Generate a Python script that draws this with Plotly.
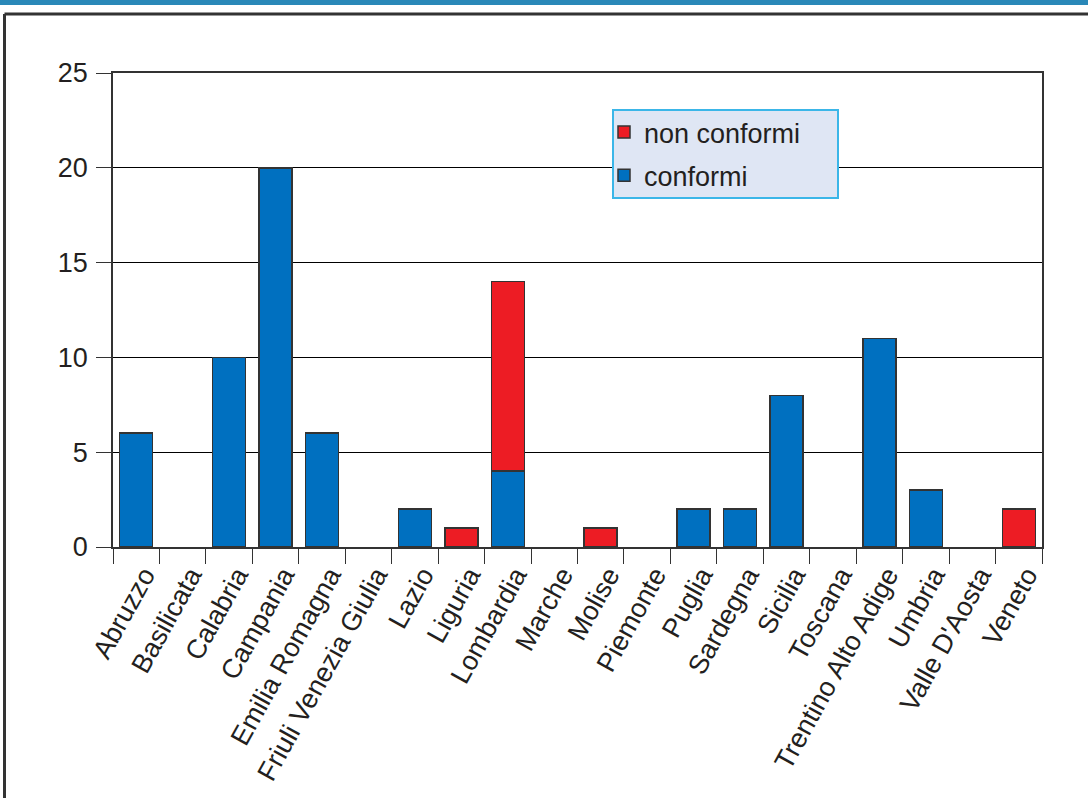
import plotly.graph_objects as go

regions = ["Abruzzo", "Basilicata", "Calabria", "Campania", "Emilia Romagna",
           "Friuli Venezia Giulia", "Lazio", "Liguria", "Lombardia", "Marche",
           "Molise", "Piemonte", "Puglia", "Sardegna", "Sicilia", "Toscana",
           "Trentino Alto Adige", "Umbria", "Valle D'Aosta", "Veneto"]
conformi = [6, 0, 10, 20, 6, 0, 2, 0, 4, 0, 0, 0, 2, 2, 8, 0, 11, 3, 0, 0]
non_conformi = [0, 0, 0, 0, 0, 0, 0, 1, 10, 0, 1, 0, 0, 0, 0, 0, 0, 0, 0, 2]
y_ticks = [0, 5, 10, 15, 20, 25]

W, H = 1088, 798
ML, MR, MT, MB = 113, 46, 73, 251
PW, PH = W - ML - MR, H - MT - MB


def px_x(p):
    return (p - ML) / PW


def px_y(p):
    return (H - MB - p) / PH


def nz(v):
    return [x if x != 0 else None for x in v]


FONT = "Liberation Sans, Arial, sans-serif"
TXT = "#231f20"
EDGE = "#333333"

fig = go.Figure()
fig.add_trace(go.Bar(x=regions, y=nz(conformi), name="conformi",
                     marker=dict(color="#0070c0", line=dict(color=EDGE, width=1.5)),
                     legendgroup="b", legendrank=2))
fig.add_trace(go.Bar(x=regions, y=nz(non_conformi), name="non conformi",
                     marker=dict(color="#ed1c24", line=dict(color=EDGE, width=1.5)),
                     legendgroup="a", legendrank=1))

shapes = [
    # top blue strip
    dict(type="rect", xref="paper", yref="paper", x0=px_x(-5), x1=px_x(W + 5),
         y0=px_y(5), y1=px_y(-5), fillcolor="#2a88b8", line=dict(width=0), layer="below"),
    # outer frame
    dict(type="line", xref="paper", yref="paper", x0=px_x(4.5), x1=px_x(W + 5),
         y0=px_y(14), y1=px_y(14), line=dict(color=EDGE, width=3), layer="below"),
    dict(type="line", xref="paper", yref="paper", x0=px_x(4.5), x1=px_x(4.5),
         y0=px_y(14), y1=px_y(H + 5), line=dict(color=EDGE, width=3), layer="below"),
    # legend box
    dict(type="rect", xref="paper", yref="paper", x0=px_x(613), x1=px_x(838),
         y0=px_y(198), y1=px_y(110), fillcolor="#dfe6f4",
         line=dict(color="#3bb6e8", width=2), layer="above"),
]

fig.update_layout(
    width=W, height=H,
    margin=dict(l=ML, r=MR, t=MT, b=MB, pad=0, autoexpand=False),
    paper_bgcolor="white", plot_bgcolor="white",
    barmode="stack", bargap=0.29,
    font=dict(family=FONT, size=27, color=TXT),
    showlegend=True,
    legend=dict(x=px_x(604), y=px_y(108), xanchor="left", yanchor="top",
                bgcolor="rgba(0,0,0,0)", borderwidth=0,
                traceorder="grouped", tracegroupgap=5,
                font=dict(family=FONT, size=27, color=TXT)),
    shapes=shapes,
)
fig.update_xaxes(type="category", tickangle=-61, tickson="boundaries",
                 ticks="outside", ticklen=15, tickcolor=EDGE, tickwidth=1,
                 showline=True, linecolor=EDGE, linewidth=1.5, mirror=True,
                 showgrid=False, tickfont=dict(size=27), automargin=False,
                 ticklabelshift=8)
fig.update_yaxes(range=[0, 25], tickvals=y_ticks, ticks="outside", ticklen=15,
                 tickcolor=EDGE, tickwidth=1, showline=True, linecolor=EDGE,
                 linewidth=1.5, mirror=True, showgrid=True, gridcolor="#000000",
                 gridwidth=1, zeroline=False, tickfont=dict(size=27),
                 ticklabelstandoff=3, automargin=False)

fig.write_html("out.html")
